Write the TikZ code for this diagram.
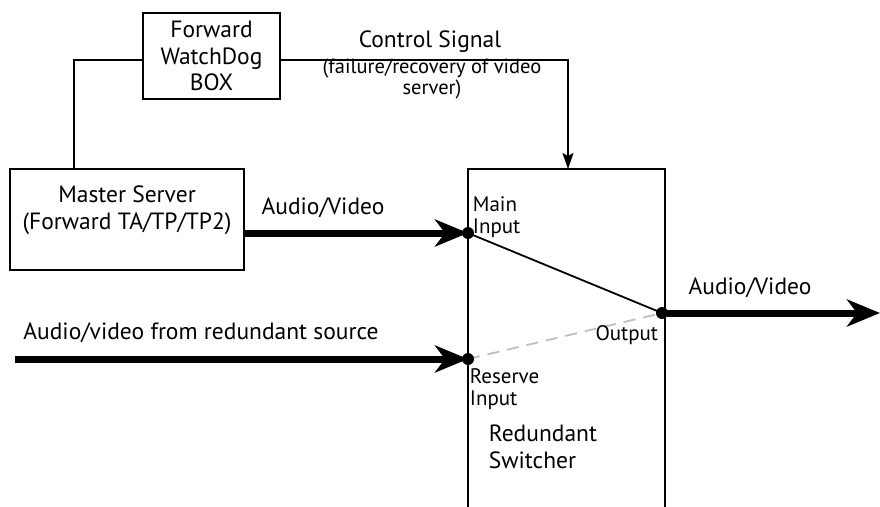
\documentclass[tikz,border=0pt]{standalone}
\usepackage{fontspec}
\setmainfont{PT Sans}
\usetikzlibrary{arrows.meta, positioning}

\begin{document}
\begin{tikzpicture}[x=1pt, y=-1pt, line width=1.8pt,
	box/.style={draw, line width=1.8pt, inner sep=0pt, align=center, font=\fontsize{23.5}{26.5}\selectfont},
	txt/.style={inner sep=0pt, align=center, font=\fontsize{23.5}{26.5}\selectfont},
	small/.style={inner sep=0pt, align=left, font=\fontsize{21}{22}\selectfont},
	feed/.style={line width=7pt, -{Stealth[length=33pt, width=27pt, inset=10pt]}},
	dot/.style={circle, fill, inner sep=0pt, minimum size=12pt}]
	\useasboundingbox (0,0) rectangle (880,506);
	% Boxes
	\node[box, minimum width=137pt, minimum height=86pt] (dog) at (211.5,56) {Forward\\WatchDog\\BOX};
	\node[box, minimum width=234pt, minimum height=101pt] (master) at (127,219.5) {};
	\node[txt, below=17pt of master.north] (mastertxt) {Master Server\\(Forward TA/TP/TP2)};
	% Switcher (open at the bottom)
	\draw (468,520) -- (468,169) -- (665,169) -- (665,520);
	\coordinate (mainin) at (468,233);
	\coordinate (resin) at (468,359);
	\coordinate (output) at (662,313);
	% Control signal
	\coordinate (ctrl) at (568,169);
	\coordinate (tap) at (74,169);
	\draw[-{Stealth[length=16pt, width=11pt, inset=3pt]}] ([yshift=-4pt]dog.east) -| (ctrl);
	\draw ([yshift=-4pt]dog.west) -| (tap);
	% Audio/video feeds
	\coordinate (redsrc) at (15,359);
	\coordinate (outend) at (880,313);
	\draw[feed] (master.east |- mainin) -- (mainin);
	\draw[feed] (redsrc) -- (resin);
	\draw[feed] (output) -- (outend);
	% Switch position
	\draw (mainin) -- (output);
	\draw[black!25, dash pattern=on 12pt off 8pt] (resin) -- (output);
	\foreach \p in {mainin, resin, output}
		\node[dot] at (\p) {};
	% Labels
	\node[txt] (ctrllbl) at (430,42) {Control Signal};
	\node[txt, font=\fontsize{20.5}{17}\selectfont] (ctrlnote) at (432,79) {(failure/recovery of video\\server)};
	\node[txt] (avin) at (323,208) {Audio/Video};
	\node[txt] (redlbl) at (201,333) {Audio/video from redundant source};
	\node[txt] (avout) at (750,288) {Audio/Video};
	\node[small, anchor=north west] (mainlbl) at (472,196) {Main\\Input};
	\node[small, anchor=east] (outlbl) at (659,335) {Output};
	\node[small, anchor=north west] (reslbl) at (469,368) {Reserve\\Input};
	\node[txt, align=left, anchor=north west] (swlbl) at (488,424) {Redundant\\Switcher};
\end{tikzpicture}
\end{document}
